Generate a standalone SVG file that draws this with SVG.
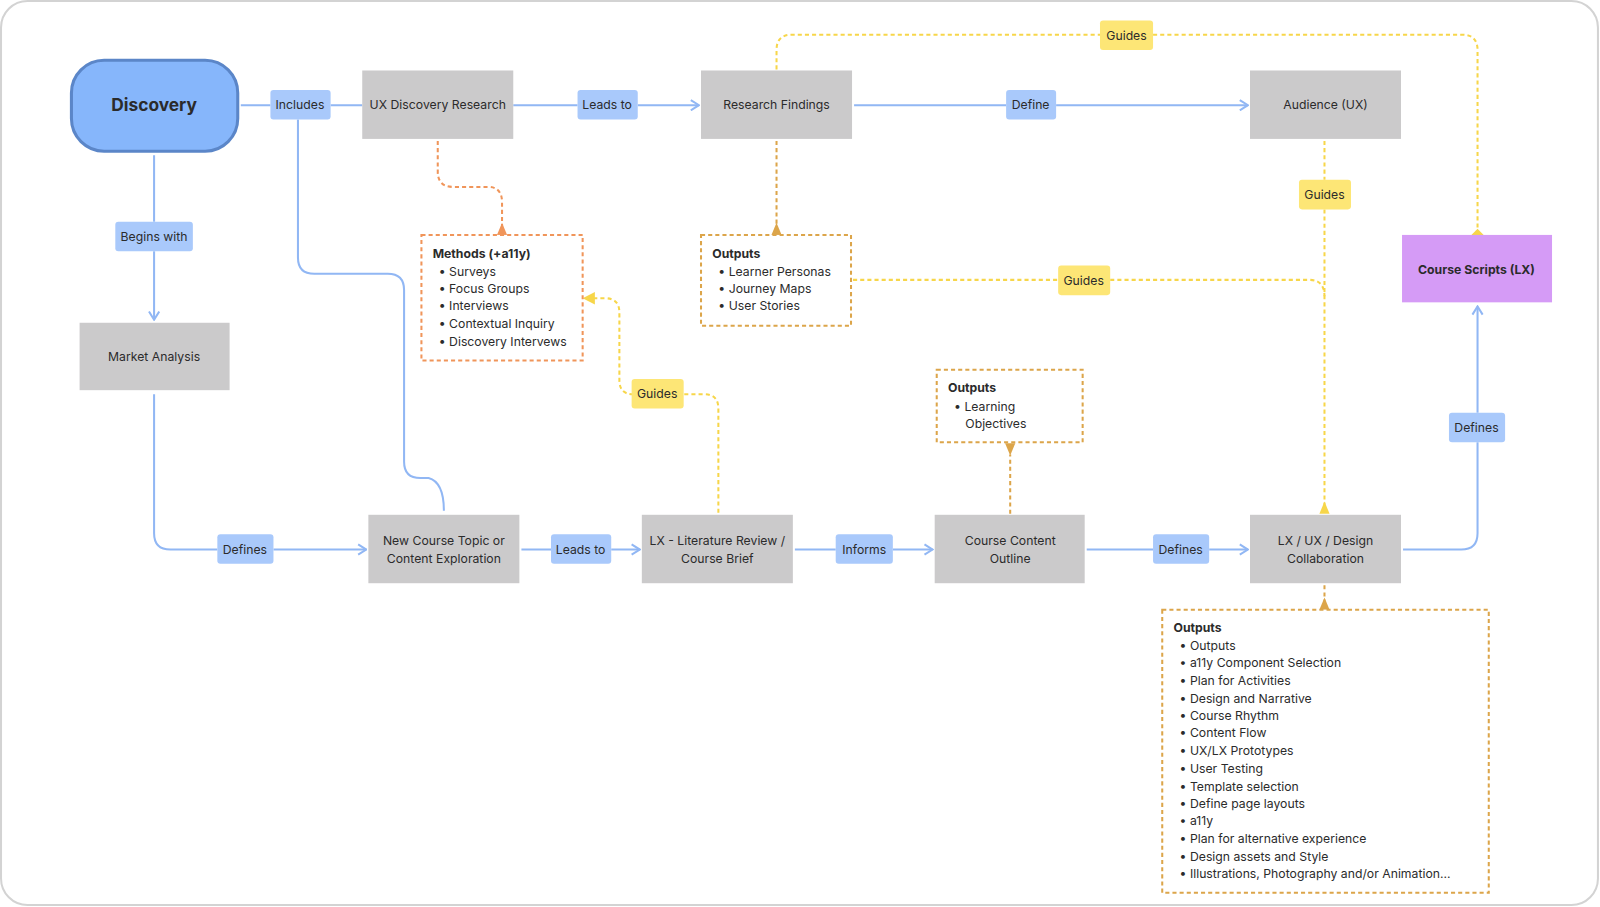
<svg xmlns="http://www.w3.org/2000/svg" width="1600" height="907" viewBox="0 0 1600 907">
<defs>
<style>
text{font-family:Inter,"Liberation Sans",sans-serif;font-size:12px;fill:#2b2b2b}
.n{fill:#cbcacb}
.lb{fill:#a9c9fb}
.gl{fill:#fde676}
.c{fill:none;stroke:#91b7f4;stroke-width:2}
.y{fill:none;stroke:#f7d64a;stroke-width:2;stroke-dasharray:4 3}
.o{fill:none;stroke:#f0955a;stroke-width:2;stroke-dasharray:4 3}
.ob{fill:#fff;stroke:#f0955a;stroke-width:2;stroke-dasharray:4 3}
.ab{fill:#fff;stroke:#dca54a;stroke-width:2;stroke-dasharray:4 3}
.a{fill:none;stroke:#dca54a;stroke-width:2;stroke-dasharray:4 3}
.m{text-anchor:middle}
.b{font-weight:bold}
</style>
<marker id="ar" viewBox="0 0 12 12" refX="11" refY="6" markerWidth="12" markerHeight="12" markerUnits="userSpaceOnUse" orient="auto"><path d="M3 1 L11 6 L3 11" fill="none" stroke="#91b7f4" stroke-width="2"/></marker>
</defs>
<g transform="scale(1.0204 1.0214)">
<rect x="1" y="1" width="1565" height="885" rx="26" fill="#fff" stroke="#d3d3d3" stroke-width="2"/>
<g id="connectors">
<path class="c" d="M236 103H265M324 103H355"/>
<path class="c" d="M292 117V252Q292 268 308 268H380Q396 268 396 284V452Q396 468 412 468H420Q435 472 435 500"/>
<path class="c" d="M503 103H566M625 103H685" marker-end="url(#ar)"/>
<path class="c" d="M837 103H986M1035 103H1223" marker-end="url(#ar)"/>
<path class="c" d="M151 152V217M151 246V313" marker-end="url(#ar)"/>
<path class="c" d="M151 386V522Q151 538 167 538H213M268 538H359" marker-end="url(#ar)"/>
<path class="c" d="M511 538H540M599 538H627" marker-end="url(#ar)"/>
<path class="c" d="M779 538H819M875 538H914" marker-end="url(#ar)"/>
<path class="c" d="M1065 538H1130M1185 538H1223" marker-end="url(#ar)"/>
<path class="c" d="M1375 538H1432Q1448 538 1448 522V433M1448 404V300" marker-end="url(#ar)"/>
<path class="o" d="M429 138V168Q429 183 444 183H478Q492 183 492 198V224"/>
<path d="M487 230L492 218L497 230Z" fill="#f0955a"/>
<path class="a" d="M761 138V224"/>
<path d="M756 230L761 218L766 230Z" fill="#dca54a"/>
<path class="y" d="M704 502V400Q704 386 690 386H670M619 386H620Q607 386 607 372V306Q607 292 593 292H578"/>
<path d="M583 286L571 292L583 298Z" fill="#f7d64a"/>
<path class="y" d="M836 274H1037M1088 274H1283Q1298 274 1298 290"/>
<path class="y" d="M1298 138V176M1298 205V497"/>
<path d="M1293 503L1298 491L1303 503Z" fill="#f7d64a"/>
<path class="y" d="M761 68V49Q761 34 776 34H1078M1130 34H1433Q1448 34 1448 49V225"/>
<path d="M1442 230L1448 224L1454 230L1448 236Z" fill="#f7d64a"/>
<path class="a" d="M990 503V445"/>
<path d="M985 434L990 446L995 434Z" fill="#dca54a"/>
<path class="a" d="M1298 573V590"/>
<path d="M1293 597L1298 585L1303 597Z" fill="#dca54a"/>
</g>
<g id="discovery"><rect x="70" y="59" width="163" height="89" rx="32" fill="#86b6fb" stroke="#5b86c8" stroke-width="3"/><text x="151" y="109" class="m b" style="font-size:17px">Discovery</text></g>
<g id="l-includes"><rect class="lb" x="265" y="88" width="59" height="29" rx="3"/><text x="294" y="107" class="m">Includes</text></g>
<g id="ux-research"><rect class="n" x="355" y="69" width="148" height="67"/><text x="429" y="107" class="m">UX Discovery Research</text></g>
<g id="l-leads1"><rect class="lb" x="566" y="88" width="59" height="29" rx="3"/><text x="595" y="107" class="m">Leads to</text></g>
<g id="findings"><rect class="n" x="687" y="69" width="148" height="67"/><text x="761" y="107" class="m">Research Findings</text></g>
<g id="l-define"><rect class="lb" x="986" y="88" width="49" height="29" rx="3"/><text x="1010" y="107" class="m">Define</text></g>
<g id="audience"><rect class="n" x="1225" y="69" width="148" height="67"/><text x="1299" y="107" class="m">Audience (UX)</text></g>
<g id="l-begins"><rect class="lb" x="113" y="217" width="76" height="29" rx="3"/><text x="151" y="236" class="m">Begins with</text></g>
<g id="market"><rect class="n" x="78" y="316" width="147" height="66"/><text x="151" y="353" class="m">Market Analysis</text></g>
<g id="methods"><rect class="ob" x="413" y="230" width="158" height="123"/>
<text x="424" y="253" class="b">Methods (+a11y)</text>
<text x="430" y="270">•  Surveys</text><text x="430" y="287">•  Focus Groups</text><text x="430" y="304">•  Interviews</text><text x="430" y="321">•  Contextual Inquiry</text><text x="430" y="339">•  Discovery Intervews</text></g>
<g id="outputs1"><rect class="ab" x="687" y="230" width="147" height="89"/>
<text x="698" y="253" class="b">Outputs</text>
<text x="704" y="270">•  Learner Personas</text><text x="704" y="287">•  Journey Maps</text><text x="704" y="304">•  User Stories</text></g>
<g id="g-top"><rect class="gl" x="1078" y="20" width="52" height="29" rx="3"/><text x="1104" y="39" class="m">Guides</text></g>
<g id="g-aud"><rect class="gl" x="1273" y="176" width="51" height="29" rx="3"/><text x="1298" y="195" class="m">Guides</text></g>
<g id="g-out"><rect class="gl" x="1037" y="260" width="51" height="29" rx="3"/><text x="1062" y="279" class="m">Guides</text></g>
<g id="g-lit"><rect class="gl" x="619" y="371" width="51" height="29" rx="3"/><text x="644" y="390" class="m">Guides</text></g>
<g id="scripts"><rect x="1374" y="230" width="147" height="66" fill="#d59bf6"/><text x="1447" y="268" class="m b">Course Scripts (LX)</text></g>
<g id="outputs2"><rect class="ab" x="918" y="362" width="143" height="71"/>
<text x="929" y="384" class="b">Outputs</text>
<text x="935" y="402">•  Learning</text><text x="946" y="419">Objectives</text></g>
<g id="l-defines3"><rect class="lb" x="1420" y="404" width="55" height="29" rx="3"/><text x="1447" y="423" class="m">Defines</text></g>
<g id="l-defines1"><rect class="lb" x="213" y="523" width="55" height="29" rx="3"/><text x="240" y="542" class="m">Defines</text></g>
<g id="newcourse"><rect class="n" x="361" y="504" width="148" height="67"/><text x="435" y="534" class="m">New Course Topic or</text><text x="435" y="551" class="m">Content Exploration</text></g>
<g id="l-leads2"><rect class="lb" x="540" y="523" width="59" height="29" rx="3"/><text x="569" y="542" class="m">Leads to</text></g>
<g id="litreview"><rect class="n" x="629" y="504" width="148" height="67"/><text x="703" y="534" class="m">LX - Literature Review /</text><text x="703" y="551" class="m">Course Brief</text></g>
<g id="l-informs"><rect class="lb" x="819" y="523" width="56" height="29" rx="3"/><text x="847" y="542" class="m">Informs</text></g>
<g id="content"><rect class="n" x="916" y="504" width="147" height="67"/><text x="990" y="534" class="m">Course Content</text><text x="990" y="551" class="m">Outline</text></g>
<g id="l-defines2"><rect class="lb" x="1130" y="523" width="55" height="29" rx="3"/><text x="1157" y="542" class="m">Defines</text></g>
<g id="collab"><rect class="n" x="1225" y="504" width="148" height="67"/><text x="1299" y="534" class="m">LX / UX / Design</text><text x="1299" y="551" class="m">Collaboration</text></g>
<g id="outputs3"><rect class="ab" x="1139" y="597" width="320" height="277"/>
<text x="1150" y="619" class="b">Outputs</text>
<text x="1156" y="636">•  Outputs</text>
<text x="1156" y="653">•  a11y Component Selection</text>
<text x="1156" y="671">•  Plan for Activities</text>
<text x="1156" y="688">•  Design and Narrative</text>
<text x="1156" y="705">•  Course Rhythm</text>
<text x="1156" y="722">•  Content Flow</text>
<text x="1156" y="739">•  UX/LX Prototypes</text>
<text x="1156" y="757">•  User Testing</text>
<text x="1156" y="774">•  Template selection</text>
<text x="1156" y="791">•  Define page layouts</text>
<text x="1156" y="808">•  a11y</text>
<text x="1156" y="825">•  Plan for alternative experience</text>
<text x="1156" y="843">•  Design assets and Style</text>
<text x="1156" y="860">•  Illustrations, Photography and/or Animation...</text></g>
</g>
</svg>
